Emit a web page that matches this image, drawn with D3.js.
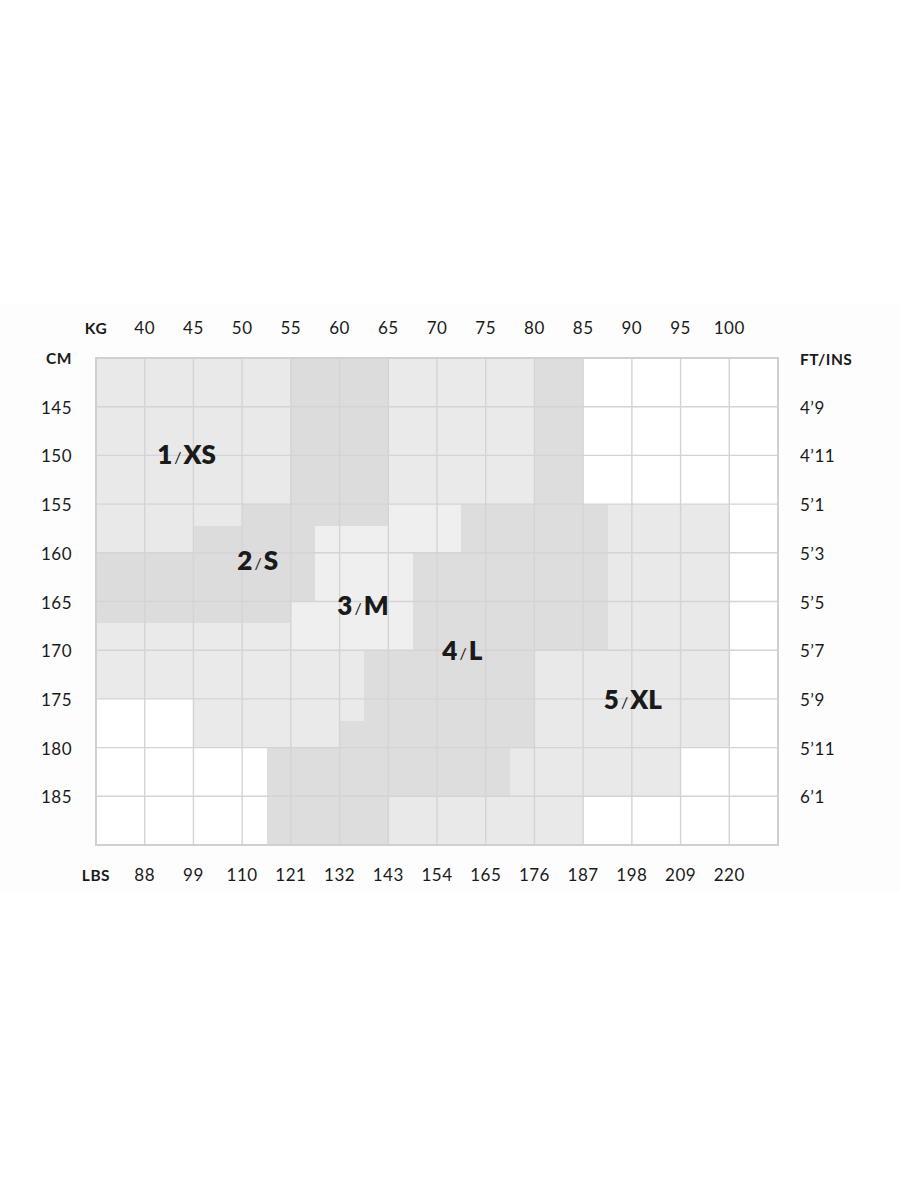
<!DOCTYPE html>
<html>
<head>
<meta charset="utf-8">
<script src="https://cdn.jsdelivr.net/npm/d3@7"></script>
<style>
  html, body { margin: 0; padding: 0; background: #ffffff; }
  svg { display: block; }
  text { font-family: Lato, "Open Sans", sans-serif; fill: #1a1a1a; }
</style>
</head>
<body>
<div id="chart"></div>
<script>
// ---- data ----
const kgTicks  = [40, 45, 50, 55, 60, 65, 70, 75, 80, 85, 90, 95, 100];
const lbsTicks = [88, 99, 110, 121, 132, 143, 154, 165, 176, 187, 198, 209, 220];
const cmTicks  = [145, 150, 155, 160, 165, 170, 175, 180, 185];
const ftTicks  = ["4’9", "4’11", "5’1", "5’3", "5’5", "5’7", "5’9", "5’11", "6’1"];
const kgDomain = [35, 105];
const cmDomain = [140, 190];

// size regions as [key, kgFrom, kgTo, cmFrom, cmTo]
const regionXS = [
  ["XS", 35, 55, 140, 155],
  ["XS", 35, 50, 155, 157.2],
  ["XS", 35, 45, 157.2, 160]
];
const regionS = [
  ["S", 55, 65, 140, 157.2],
  ["S", 50, 55, 155, 157.2],
  ["S", 45, 57.5, 157.2, 160],
  ["S", 35, 57.5, 160, 165],
  ["S", 35, 55, 165, 167.2]
];
const regionM = [
  ["Mext", 65, 80, 140, 155],
  ["M", 65, 72.5, 155, 160],
  ["M", 57.5, 65, 157.2, 160],
  ["M", 57.5, 67.5, 160, 165],
  ["M", 55, 67.5, 165, 167.2],
  ["M", 55, 67.5, 167.2, 170],
  ["Mext", 35, 55, 167.2, 170],
  ["Mext", 35, 62.5, 170, 175],
  ["Mext", 45, 62.5, 175, 177.3],
  ["Mext", 45, 60, 177.3, 180]
];
const regionL = [
  ["L", 80, 85, 140, 155],
  ["L", 72.5, 87.5, 155, 160],
  ["L", 67.5, 87.5, 160, 170],
  ["L", 62.5, 80, 170, 177.3],
  ["L", 60, 80, 177.3, 180],
  ["L", 52.5, 77.5, 180, 185],
  ["L", 52.5, 65, 185, 190]
];
const regionXL = [
  ["XL", 87.5, 100, 155, 170],
  ["XL", 80, 100, 170, 180],
  ["XL", 77.5, 95, 180, 185],
  ["XL", 65, 85, 185, 190]
];
// size labels: [number, name, kg, cm]
const sizeLabels = [
  ["1", "XS", 44.3, 150],
  ["2", "S", 51.6, 160.8],
  ["3", "M", 62.4, 165.5],
  ["4", "L", 72.6, 170.1],
  ["5", "XL", 90.1, 175.1]
];
const sizeFill = { XS: "#e9e9e9", S: "#dcdcdc", M: "#efefef", Mext: "#eaeaea", L: "#dddddd", XL: "#e9e9e9" };

// ---- chart ----
const W = 900, H = 1200;
const svg = d3.select("#chart").append("svg").attr("width", W).attr("height", H);

const x = d3.scaleLinear().domain(kgDomain).range([96, 778]);
const y = d3.scaleLinear().domain(cmDomain).range([358, 845]);

// faint panel behind the chart
svg.append("rect").attr("x", 0).attr("y", 305).attr("width", W).attr("height", 588)
  .attr("fill", "#fdfdfd");

// grid background
svg.append("rect")
  .attr("x", x(kgDomain[0])).attr("y", y(cmDomain[0]))
  .attr("width", x(kgDomain[1]) - x(kgDomain[0]))
  .attr("height", y(cmDomain[1]) - y(cmDomain[0]))
  .attr("fill", "#ffffff");

const regions = [].concat(regionXS, regionS, regionM, regionL, regionXL);
svg.append("g").selectAll("rect").data(regions).join("rect")
  .attr("x", d => x(d[1]))
  .attr("y", d => y(d[3]))
  .attr("width", d => x(d[2]) - x(d[1]))
  .attr("height", d => y(d[4]) - y(d[3]))
  .attr("fill", d => sizeFill[d[0]])
  .attr("shape-rendering", "crispEdges");

// grid lines
const grid = svg.append("g").attr("stroke", "#d4d4d4").attr("stroke-width", 1.4);
grid.selectAll("line.v").data(kgTicks).join("line").attr("class", "v")
  .attr("x1", d => x(d)).attr("x2", d => x(d))
  .attr("y1", y(cmDomain[0])).attr("y2", y(cmDomain[1]));
grid.selectAll("line.h").data(cmTicks).join("line").attr("class", "h")
  .attr("y1", d => y(d)).attr("y2", d => y(d))
  .attr("x1", x(kgDomain[0])).attr("x2", x(kgDomain[1]));
svg.append("rect")
  .attr("x", x(kgDomain[0])).attr("y", y(cmDomain[0]))
  .attr("width", x(kgDomain[1]) - x(kgDomain[0]))
  .attr("height", y(cmDomain[1]) - y(cmDomain[0]))
  .attr("fill", "none").attr("stroke", "#d0d0d0").attr("stroke-width", 2);

const tickFont = 17, headFont = 15.5, spacing = 0.5;

// top axis (KG)
const gTop = svg.append("g");
gTop.append("text").attr("x", x(kgDomain[0])).attr("y", 334)
  .attr("text-anchor", "middle").attr("font-size", headFont).attr("font-weight", 700)
  .attr("letter-spacing", spacing).text("KG");
gTop.selectAll("text.t").data(kgTicks).join("text").attr("class", "t")
  .attr("x", d => x(d)).attr("y", 334)
  .attr("text-anchor", "middle").attr("font-size", tickFont).attr("letter-spacing", spacing).text(d => d);

// bottom axis (LBS)
const gBot = svg.append("g");
gBot.append("text").attr("x", x(kgDomain[0])).attr("y", 881)
  .attr("text-anchor", "middle").attr("font-size", headFont).attr("font-weight", 700)
  .attr("letter-spacing", spacing).text("LBS");
gBot.selectAll("text.t").data(lbsTicks).join("text").attr("class", "t")
  .attr("x", (d, i) => x(kgTicks[i])).attr("y", 881)
  .attr("text-anchor", "middle").attr("font-size", tickFont).attr("letter-spacing", spacing).text(d => d);

// left axis (CM)
const gLeft = svg.append("g");
gLeft.append("text").attr("x", 72).attr("y", y(cmDomain[0]) + 6)
  .attr("text-anchor", "end").attr("font-size", headFont).attr("font-weight", 700)
  .attr("letter-spacing", spacing).text("CM");
gLeft.selectAll("text.t").data(cmTicks).join("text").attr("class", "t")
  .attr("x", 72).attr("y", d => y(d) + 7)
  .attr("text-anchor", "end").attr("font-size", tickFont).attr("letter-spacing", spacing).text(d => d);

// right axis (FT/INS)
const gRight = svg.append("g");
gRight.append("text").attr("x", 800).attr("y", y(cmDomain[0]) + 7)
  .attr("text-anchor", "start").attr("font-size", headFont).attr("font-weight", 700)
  .attr("letter-spacing", spacing).text("FT/INS");
gRight.selectAll("text.t").data(ftTicks).join("text").attr("class", "t")
  .attr("x", 800).attr("y", (d, i) => y(cmTicks[i]) + 7)
  .attr("text-anchor", "start").attr("font-size", tickFont).attr("letter-spacing", spacing).text(d => d);

// size labels
const lbl = svg.append("g").selectAll("text").data(sizeLabels).join("text")
  .attr("x", d => x(d[2])).attr("y", d => y(d[3]) + 9)
  .attr("text-anchor", "middle").attr("font-size", 26).attr("font-weight", 800);
lbl.append("tspan").text(d => d[0]);
lbl.append("tspan").attr("font-size", 16).attr("font-weight", 400).attr("dx", 2).attr("dy", -1).text("/");
lbl.append("tspan").attr("dx", 2).attr("dy", 1).text(d => d[1]);
</script>
</body>
</html>
